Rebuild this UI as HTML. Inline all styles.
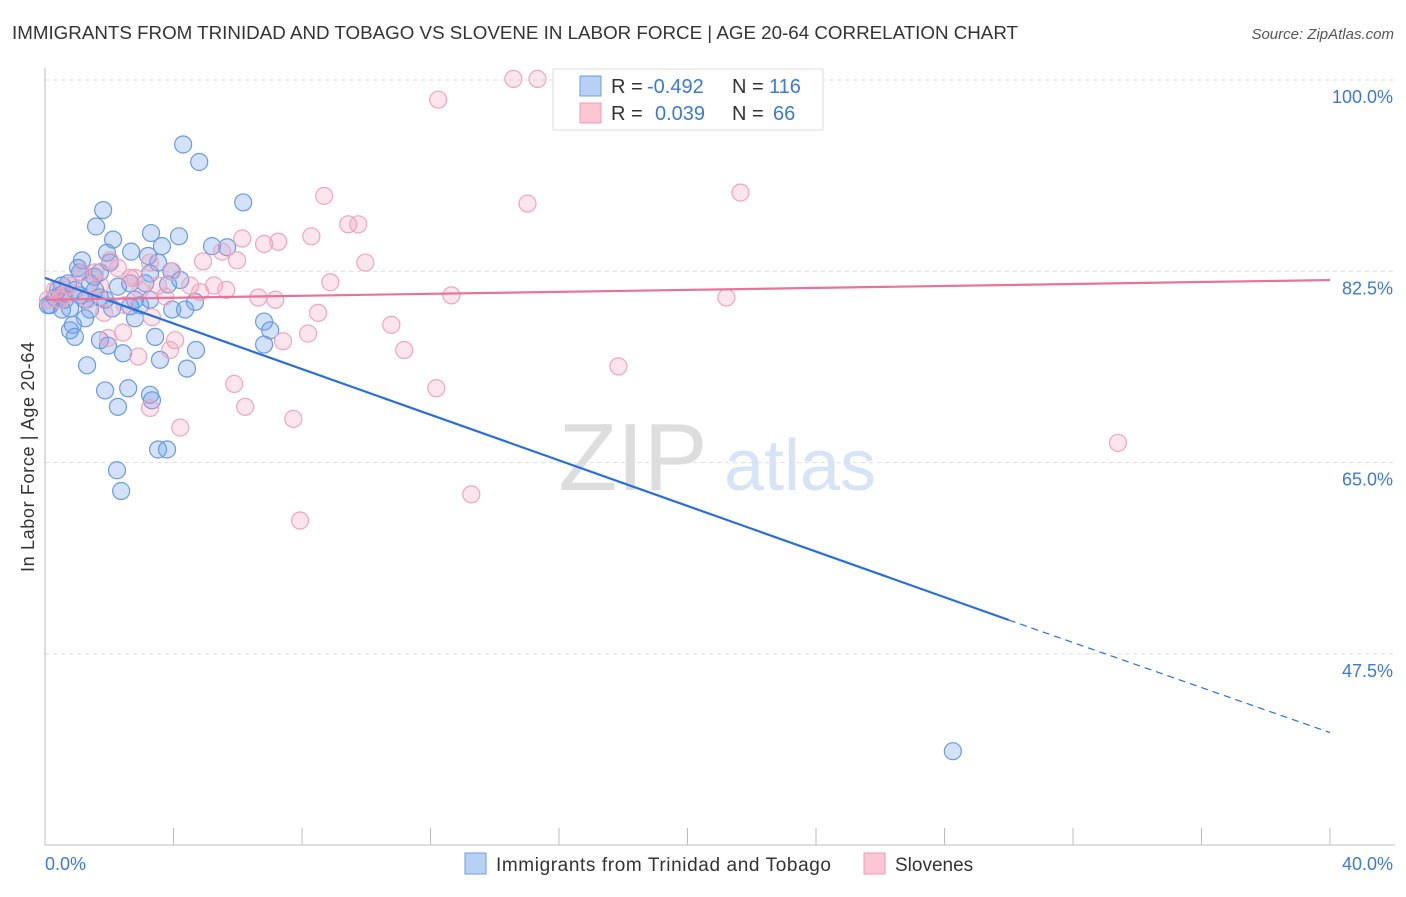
<!DOCTYPE html>
<html><head><meta charset="utf-8"><style>
body{margin:0;background:#fff;font-family:"Liberation Sans",sans-serif}
svg text{font-family:"Liberation Sans",sans-serif}
</style></head><body>
<svg id="c" width="1406" height="892">
<text x="12" y="39" font-size="18" fill="#333" textLength="1006" lengthAdjust="spacingAndGlyphs">IMMIGRANTS FROM TRINIDAD AND TOBAGO VS SLOVENE IN LABOR FORCE | AGE 20-64 CORRELATION CHART</text>
<text x="1394" y="39" font-size="15" fill="#555" font-style="italic" text-anchor="end">Source: ZipAtlas.com</text>
<g><text x="633" y="490" font-size="96" fill="#ddd" font-family="Liberation Serif,serif" text-anchor="middle">ZIP</text><text x="800" y="490" font-size="72" fill="#d6e4f5" text-anchor="middle">atlas</text></g>
<g id="grid"></g><g id="axes"></g><g id="pts"></g><g id="lines"></g>
<text transform="translate(34,457) rotate(-90)" font-size="18" fill="#333" text-anchor="middle" textLength="230">In Labor Force | Age 20-64</text>
<g font-size="20">
<rect x="553" y="69" width="270" height="61" fill="#fff" stroke="#ddd"/>
<rect x="580" y="76" width="21" height="20" fill="#b8d0f4" stroke="#6d9ee0"/>
<rect x="580" y="103" width="21" height="20" fill="#fcc6d4" stroke="#eb9ab3"/>
<text x="611" y="93" fill="#333">R =</text><text x="647" y="93" fill="#3d78d8">-0.492</text><text x="732" y="93" fill="#333">N =</text><text x="769" y="93" fill="#3d78d8">116</text>
<text x="611" y="120" fill="#333">R =</text><text x="655" y="120" fill="#3d78d8">0.039</text><text x="732" y="120" fill="#333">N =</text><text x="773" y="120" fill="#3d78d8">66</text>
</g>
<g>
<rect x="465" y="853" width="21" height="21" fill="#b8d0f4" stroke="#6d9ee0"/>
<text x="496" y="871" font-size="19" fill="#333" textLength="335">Immigrants from Trinidad and Tobago</text>
<rect x="864" y="853" width="21" height="21" fill="#fcc6d4" stroke="#eb9ab3"/>
<text x="895" y="871" font-size="19" fill="#333">Slovenes</text>
</g>
</svg>
<script>
const yTicks=[100,82.5,65,47.5];
const yTickLabels=["100.0%","82.5%","65.0%","47.5%"];
const xEndLabels=["0.0%","40.0%"];
const blueX=[4.30,4.80,6.17,1.81,1.59,3.30,4.17,2.12,3.64,5.20,5.67,2.68,1.93,3.21,2.02,1.15,3.52,3.93,3.27,4.21,1.71,1.09,0.72,1.40,2.65,3.12,3.83,0.40,0.93,1.56,2.27,0.31,0.62,1.25,1.71,2.80,4.67,0.16,0.78,1.40,2.09,2.65,3.96,4.36,2.80,1.25,0.87,6.82,7.01,0.78,0.93,1.71,3.43,1.96,6.82,4.70,2.43,3.58,1.31,4.42,1.87,2.59,3.27,3.33,2.27,3.52,3.80,2.24,2.37,28.26,0.47,0.09,0.53,1.09,1.87,1.53,3.27,2.96,1.03,0.53];
const blueY=[94.1,92.5,88.8,88.1,86.6,86.0,85.7,85.4,84.8,84.8,84.7,84.3,84.2,83.9,83.3,83.5,83.3,82.5,82.3,81.7,82.4,82.4,81.4,81.4,81.4,81.4,81.3,80.8,80.8,80.8,81.1,80.1,79.9,79.9,80.1,79.9,79.7,79.4,79.1,79.0,79.1,79.3,79.0,79.0,78.2,78.2,77.6,77.9,77.1,77.1,76.5,76.2,76.5,75.7,75.8,75.3,75.0,74.4,73.9,73.6,71.6,71.8,71.2,70.7,70.1,66.2,66.2,64.3,62.4,38.6,80.3,79.4,79.0,80.3,79.9,82.0,79.9,79.4,82.8,81.2];
const pinkX=[14.58,15.33,12.24,21.65,8.69,15.02,9.44,9.75,6.14,8.29,6.82,7.26,5.51,5.98,9.97,4.92,2.02,1.15,1.56,2.65,3.96,8.88,4.52,5.26,5.64,3.52,12.65,21.21,6.64,7.17,2.49,1.84,3.33,8.50,10.78,2.43,8.19,7.41,4.05,11.18,2.90,17.85,5.89,12.18,3.27,6.23,7.73,4.21,33.40,13.27,7.94,0.31,0.62,0.78,1.34,2.96,1.71,0.09,0.47,2.80,3.74,2.27,4.83,1.96,3.89,3.27];
const pinkY=[100.1,100.1,98.2,89.7,89.4,88.7,86.8,86.8,85.5,85.7,85.0,85.2,84.3,83.5,83.3,83.4,83.5,82.4,82.4,81.9,82.5,81.5,81.2,81.2,80.8,81.2,80.3,80.1,80.1,79.9,79.4,78.7,78.3,78.7,77.6,76.9,76.8,76.1,76.2,75.3,74.7,73.8,72.2,71.8,70.0,70.1,69.0,68.2,66.8,62.1,59.7,80.8,80.3,81.2,79.9,80.8,81.2,79.9,79.9,81.9,80.2,82.8,80.6,76.4,75.3,83.3];
const blueTrend=[[0,81.9],[30.0,50.6],[40,40.3]];
const pinkTrend=[[0,79.9],[40,81.7]];
const NS="http://www.w3.org/2000/svg";
const xs=v=>45+v/40*1285;
const ys=v=>80+(100-v)/17.5*191.3;
function mk(p,t,a){const e=document.createElementNS(NS,t);for(const k in a)e.setAttribute(k,a[k]);p.appendChild(e);return e;}
const grid=document.getElementById('grid'),axes=document.getElementById('axes'),pts=document.getElementById('pts'),lines=document.getElementById('lines');
yTicks.forEach((t,i)=>{
 const l=mk(grid,'line',{x1:45,x2:1395,y1:ys(t),y2:ys(t),stroke:'#ddd','stroke-dasharray':'4,4'});
 
 
 const tx=mk(axes,'text',{x:1393,y:ys(t)+23,'font-size':18,fill:'#3d78d8','text-anchor':'end'});
 tx.textContent=yTickLabels[i];
 
 
});
const ax=mk(axes,'line',{x1:45,x2:45,y1:68,y2:845,stroke:'#bbb'});


const bx=mk(axes,'line',{x1:45,x2:1395,y1:845,y2:845,stroke:'#bbb'});


for(let v=0;v<=40;v+=4){
 const tk=mk(axes,'line',{x1:xs(v),x2:xs(v),y1:828,y2:845,stroke:'#bbb'});
 
 
}
[[0,'start'],[40,'end']].forEach((d,i)=>{
 const t=mk(axes,'text',{x:i?1393:45,y:870,'font-size':18,fill:'#3d78d8','text-anchor':d[1]});
 t.textContent=xEndLabels[i];
 
 
});
blueX.forEach((x,i)=>{
 const c=mk(pts,'circle',{cx:xs(x),cy:ys(blueY[i]),r:8.5,fill:'rgba(110,160,235,0.3)',stroke:'#6a9ae0','stroke-width':1.2});
 
 
});
pinkX.forEach((x,i)=>{
 const c=mk(pts,'circle',{cx:xs(x),cy:ys(pinkY[i]),r:8.5,fill:'rgba(245,150,180,0.25)',stroke:'#eda6bd','stroke-width':1.2});
 
 
});
const b1=mk(lines,'line',{x1:xs(blueTrend[0][0]),y1:ys(blueTrend[0][1]),x2:xs(blueTrend[1][0]),y2:ys(blueTrend[1][1]),stroke:'#2a6fd8','stroke-width':2.2});


const b2=mk(lines,'line',{x1:xs(blueTrend[1][0]),y1:ys(blueTrend[1][1]),x2:xs(blueTrend[2][0]),y2:ys(blueTrend[2][1]),stroke:'#2a6fd8','stroke-width':1.2,'stroke-dasharray':'7,5'});


const p1=mk(lines,'line',{x1:xs(pinkTrend[0][0]),y1:ys(pinkTrend[0][1]),x2:xs(pinkTrend[1][0]),y2:ys(pinkTrend[1][1]),stroke:'#e8739a','stroke-width':2.2});


</script>
</body></html>
